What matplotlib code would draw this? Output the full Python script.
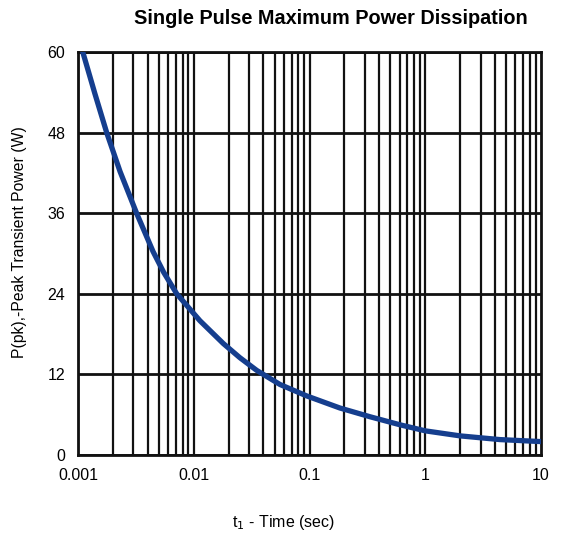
import matplotlib.pyplot as plt

plt.rcParams['font.family'] = ['Liberation Sans', 'DejaVu Sans']

# values
t = [0.0011, 0.0014, 0.00177, 0.00231, 0.00321, 0.00445, 0.0055, 0.00713,
     0.0113, 0.018, 0.025, 0.035, 0.0556, 0.0946, 0.183, 0.333, 0.605,
     1.0, 2.0, 4.4, 10]
p = [60, 53.8, 48, 42.2, 36, 30.3, 27.2, 24.0, 20.0, 16.6, 14.5, 12.6,
     10.5, 8.8, 7.0, 5.7, 4.5, 3.6, 2.85, 2.3, 2.0]
y_ticks = [0, 12, 24, 36, 48, 60]
x_ticks = [0.001, 0.01, 0.1, 1, 10]
x_labels = ['0.001', '0.01', '0.1', '1', '10']

fig = plt.figure(figsize=(5.63, 5.39), dpi=100)
ax = fig.add_axes([0.1385, 0.1558, 0.8225, 0.7477])

# grid: every decade subdivision + the y ticks
for dec in [0.001, 0.01, 0.1, 1]:
    for k in range(1, 10):
        ax.axvline(dec * k, color='#111111', lw=1.6, zorder=1)
for yv in y_ticks:
    ax.axhline(yv, color='#111111', lw=2.0, zorder=1)

ax.plot(t, p, color='#153e8e', lw=3.8, solid_capstyle='round',
        solid_joinstyle='round', zorder=3)

ax.set_xscale('log')
ax.set_xlim(0.001, 10)
ax.set_ylim(0, 60)
ax.set_xticks(x_ticks)
ax.set_xticklabels(x_labels)
ax.minorticks_off()
ax.set_yticks(y_ticks)
ax.tick_params(length=0, labelsize=11.5, pad=9)
for s in ax.spines.values():
    s.set_linewidth(2.0)
    s.set_color('#111111')

fig.text(0.587, 0.966, 'Single Pulse Maximum Power Dissipation',
         ha='center', va='center', fontsize=14.3, fontweight='bold')
fig.text(0.503, 0.031, r't$_1$ - Time (sec)', ha='center', va='center',
         fontsize=11.5)
fig.text(0.035, 0.551, 'P(pk),-Peak Transient Power (W)', ha='center',
         va='center', rotation=90, fontsize=11.3)

fig.savefig('out.png', dpi=100)
